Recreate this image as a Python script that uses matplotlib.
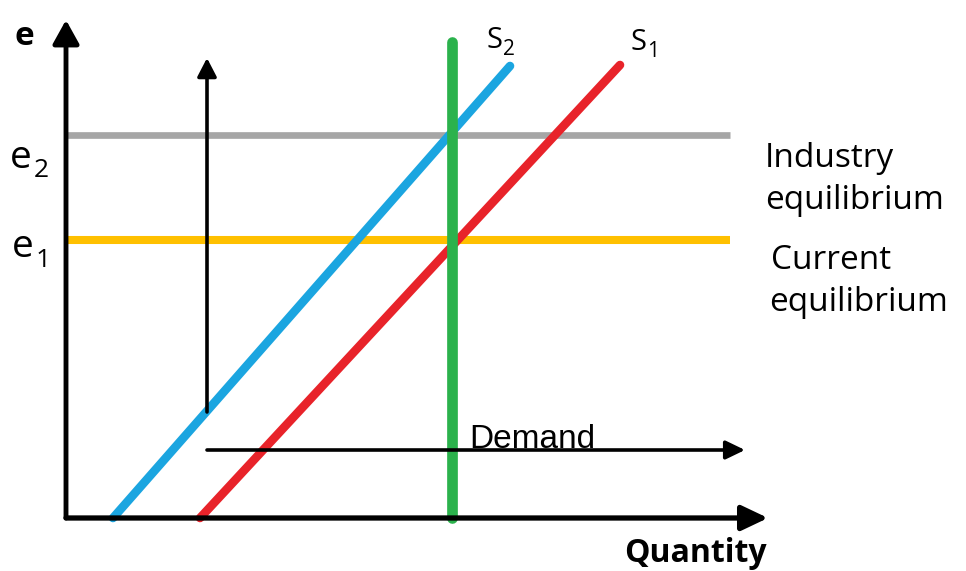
import matplotlib.pyplot as plt

# all coordinates in picture pixels (y grows downward)
axis_origin = (66, 518)
y_axis_top = 20
x_axis_end = 768

e2_level = 135
e1_level = 240
level_x = [66, 730]

demand_x = 452
demand_y = [42, 518]

s2_x = [113, 510]
s2_y = [518, 66]
s1_x = [200, 620]
s1_y = [518, 65]

up_arrow_x = 207
up_arrow_y = [412, 58]
right_arrow_x = [207, 745]
right_arrow_y = 450

fig = plt.figure(figsize=(9.66, 5.71), dpi=100)
ax = fig.add_axes([0, 0, 1, 1])
ax.set_xlim(0, 966)
ax.set_ylim(571, 0)
ax.axis('off')

#horizontal equilibrium levels
ax.plot(level_x, [e2_level, e2_level], color='#a6a6a6', lw=4.8, solid_capstyle='butt')
ax.plot(level_x, [e1_level, e1_level], color='#ffc000', lw=5.8, solid_capstyle='butt')

#supply curves
ax.plot(s2_x, s2_y, color='#1ba5e0', lw=6.2, solid_capstyle='round')
ax.plot(s1_x, s1_y, color='#e8232a', lw=6.2, solid_capstyle='round')

#vertical demand
ax.plot([demand_x, demand_x], demand_y, color='#2bb24c', lw=7.7, solid_capstyle='round')

def arrow(x0, y0, x1, y1, lw, hl, hw):
    ax.annotate('', xy=(x1, y1), xytext=(x0, y0),
                arrowprops=dict(arrowstyle='-|>,head_length=%s,head_width=%s' % (hl, hw),
                                lw=lw, color='black', shrinkA=0, shrinkB=0,
                                mutation_scale=20))

#axes
arrow(axis_origin[0], axis_origin[1], axis_origin[0], y_axis_top, 3.5, 0.72, 0.4)
arrow(axis_origin[0], axis_origin[1], x_axis_end, axis_origin[1], 3.8, 0.8, 0.38)
#shift arrows
arrow(up_arrow_x, up_arrow_y[0], up_arrow_x, up_arrow_y[1], 2.6, 0.56, 0.29)
arrow(right_arrow_x[0], right_arrow_y, right_arrow_x[1], right_arrow_y, 2.6, 0.58, 0.28)

font = 'Open Sans'
ax.text(14, 45, 'e', fontsize=24, fontweight='bold', family=font, va='baseline', ha='left')
ax.text(10, 168, 'e', fontsize=28, family=font, va='baseline', ha='left')
ax.text(34, 177, '2', fontsize=19, family=font, va='baseline', ha='left')
ax.text(12, 257, 'e', fontsize=28, family=font, va='baseline', ha='left')
ax.text(36, 267, '1', fontsize=19, family=font, va='baseline', ha='left')
ax.text(486, 48, 'S', fontsize=21, family=font, va='baseline', ha='left')
ax.text(503, 55, '2', fontsize=15, family=font, va='baseline', ha='left')
ax.text(630, 50, 'S', fontsize=21, family=font, va='baseline', ha='left')
ax.text(647, 57, '1', fontsize=15, family=font, va='baseline', ha='left')
ax.text(765, 167, 'Industry', fontsize=24, family=font, va='baseline', ha='left')
ax.text(765, 209, 'equilibrium', fontsize=24, family=font, va='baseline', ha='left')
ax.text(771, 269, 'Current', fontsize=24, family=font, va='baseline', ha='left')
ax.text(769, 311, 'equilibrium', fontsize=24, family=font, va='baseline', ha='left')
ax.text(469, 448, 'Demand', fontsize=24, family='Liberation Sans', va='baseline', ha='left')
ax.text(695, 562, 'Quantity', fontsize=23, fontweight='bold', family=font, va='baseline', ha='center')

fig.savefig('out.png', dpi=100)
